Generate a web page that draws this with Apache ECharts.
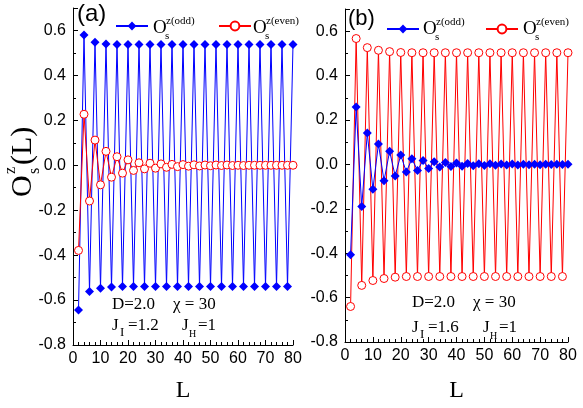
<!DOCTYPE html>
<html><head><meta charset="utf-8">
<script src="https://cdn.jsdelivr.net/npm/echarts@6/dist/echarts.min.js"></script>
<style>html,body{margin:0;padding:0;background:#fff}#c{width:583px;height:408px}</style>
</head><body><div id="c"></div><script>
const L = [2,4,6,8,10,12,14,16,18,20,22,24,26,28,30,32,34,36,38,40,42,44,46,48,50,52,54,56,58,60,62,64,66,68,70,72,74,76,78,80];
const oddA = [-0.644,0.580,-0.562,0.547,-0.547,0.540,-0.542,0.538,
  -0.540,0.538,-0.540,0.538,-0.540,0.538,-0.540,0.538,-0.540,0.538,-0.540,0.538,
  -0.540,0.538,-0.540,0.538,-0.540,0.538,-0.540,0.538,-0.540,0.538,-0.540,0.538,
  -0.540,0.538,-0.540,0.538,-0.540,0.538,-0.540,0.538];
const evenA = [-0.379,0.227,-0.159,0.112,-0.087,0.062,-0.053,0.038,-0.035,0.024,
  -0.023,0.011,-0.016,0.009,-0.013,0.006,-0.009,0.004,-0.006,0.003,
  -0.004,0.002,-0.003,0.001,-0.002,0.001,-0.001,0.001,-0.001,0,
  -0.001,0,0,0,0,0,0,0,0,0];
const oddB = [-0.407,0.259,-0.190,0.141,-0.112,0.092,-0.074,0.059,-0.052,0.042,
  -0.034,0.025,-0.027,0.018,-0.019,0.012,-0.012,0.008,-0.010,0.006,
  -0.008,0.004,-0.006,0.003,-0.005,0.003,-0.004,0.002,-0.003,0.002,
  -0.003,0.001,-0.002,0.001,-0.002,0.001,-0.001,0.001,-0.001,0.001];
const evenB = [-0.640,0.567,-0.545,0.526,-0.523,0.514,-0.514,0.508,-0.508,0.504,
  -0.505,0.503,-0.505,0.503,-0.505,0.503,-0.505,0.503,-0.505,0.503,
  -0.505,0.503,-0.505,0.503,-0.505,0.503,-0.505,0.503,-0.505,0.503,
  -0.505,0.503,-0.505,0.503,-0.505,0.503,-0.505,0.503,-0.505,0.503];
const panelLabels = ['(a)','(b)'];
const paramsA = {D:'D=2.0', chi:'χ = 30', JI:'=1.2', JH:'=1'};
const paramsB = {D:'D=2.0', chi:'χ = 30', JI:'=1.6', JH:'=1'};

const pairs = v => v.map((y,i)=>[L[i], y]);
const SANS = 'Liberation Sans, Arial, sans-serif';
const SERIF = 'Liberation Serif, Times New Roman, serif';
const BLUE = '#0000ff', RED = '#ff0000';

function xAx(gi, gap){
  return {type:'value', gridIndex:gi, min:0, max:80, interval:10,
    axisLine:{show:true, onZero:false, lineStyle:{color:'#000', width:1}},
    axisTick:{show:true, inside:true, length:5, lineStyle:{color:'#000'}},
    minorTick:{show:true, splitNumber:5, length:3, lineStyle:{color:'#000'}},
    splitLine:{show:false},
    axisLabel:{color:'#000', fontSize:16, fontFamily:SANS, margin:6},
    name:'L', nameLocation:'middle', nameGap:gap,
    nameTextStyle:{fontFamily:SERIF, fontSize:24, color:'#000'}};
}
function yAx(gi){
  return {type:'value', gridIndex:gi, min:-0.8, max:0.7, interval:0.2,
    axisLine:{show:true, onZero:false, lineStyle:{color:'#000', width:1}},
    axisTick:{show:true, inside:true, length:5, lineStyle:{color:'#000'}},
    minorTick:{show:true, splitNumber:2, length:3, lineStyle:{color:'#000'}},
    splitLine:{show:false},
    axisLabel:{color:'#000', fontSize:16, fontFamily:SANS, margin:7, showMaxLabel:false,
      formatter:v=>v.toFixed(1)}};
}
function oddSeries(gi, data){
  return {type:'line', name:'odd', xAxisIndex:gi, yAxisIndex:gi, data:pairs(data),
    symbol:'diamond', symbolSize:9, lineStyle:{color:BLUE, width:1},
    itemStyle:{color:BLUE}, animation:false, clip:false};
}
function evenSeries(gi, data){
  return {type:'line', name:'even', xAxisIndex:gi, yAxisIndex:gi, data:pairs(data),
    symbol:'circle', symbolSize:8, lineStyle:{color:RED, width:1},
    itemStyle:{color:'#ffffff', borderColor:RED, borderWidth:1}, animation:false, clip:false};
}
function leg(name, left, cy){
  return {data:[name], left:left, top:cy-5.5, itemWidth:32, itemHeight:11, padding:0,
    itemGap:0, selectedMode:false, formatter:()=>'', textStyle:{fontSize:1}};
}
function txt(text, x, y, size, family, align, va){
  return {type:'text', x:x, y:y, silent:true,
    style:{text:text, fontSize:size, fontFamily:family, fill:'#000',
      textAlign:align||'left', textVerticalAlign:va||'middle'}};
}
function legText(x, y, sup){
  return [txt('O', x, y, 19, SERIF), txt(sup, x+13, y-7, 11, SERIF), txt('s', x+12, y+8, 11, SERIF)];
}
function params(p, x0, y1, y2, chiX, jx2){
  return [txt(p.D, x0, y1, 17, SERIF), txt(p.chi, chiX, y1, 17, SERIF),
    txt('J', x0, y2, 17, SERIF), txt('I', x0+8, y2+7, 13, SERIF), txt(p.JI, x0+16, y2, 17, SERIF),
    txt('J', jx2, y2, 17, SERIF), txt('H', jx2+7, y2+8, 10, SERIF), txt(p.JH, jx2+16, y2, 17, SERIF)];
}

const chart = echarts.init(document.getElementById('c'), null, {renderer:'canvas'});
chart.setOption({
  backgroundColor:'#fff',
  animation:false,
  grid:[{left:73, top:8, width:220, height:338}, {left:345, top:9, width:223, height:338}],
  xAxis:[xAx(0,34), xAx(1,37)],
  yAxis:[yAx(0), yAx(1)],
  legend:[leg('odd',115,26), leg('even',218,26), leg('odd',386,29), leg('even',485,29)],
  series:[oddSeries(0, oddA), evenSeries(0, evenA), evenSeries(1, evenB), oddSeries(1, oddB)],
  graphic:[
    txt(panelLabels[0], 77, 14, 24, SANS),
    txt(panelLabels[1], 348, 19, 22, SANS),
    ...legText(153, 28, 'z(odd)'), ...legText(253, 28, 'z(even)'),
    ...legText(423, 29, 'z(odd)'), ...legText(523, 29, 'z(even)'),
    ...params(paramsA, 112, 305, 326, 173, 182),
    ...params(paramsB, 412, 303, 328, 473, 483),
    {type:'group', x:23, y:197, rotation:Math.PI/2, children:[
      txt('O', 0, 0, 30, SERIF),
      txt('z', 23, -12, 16, SERIF),
      txt('s', 23, 12, 16, SERIF),
      txt('(L)', 32, 0, 30, SERIF)
    ]}
  ]
});
</script></body></html>
